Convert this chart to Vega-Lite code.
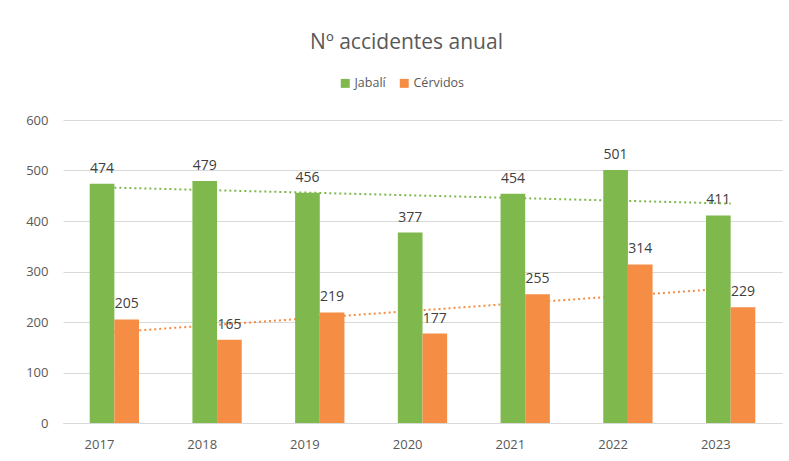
{
  "$schema": "https://vega.github.io/schema/vega-lite/v6.json",
  "width": 719,
  "height": 303,
  "autosize": {"type": "none"},
  "padding": {"left": 63, "top": 120, "right": 7, "bottom": 38},
  "background": "white",
  "config": {
    "font": "Open Sans",
    "view": {"stroke": null},
    "axis": {"labelColor": "#595959", "labelFontSize": 13, "titleColor": "#595959"}
  },
  "title": {
    "text": "Nº accidentes anual",
    "fontSize": 21,
    "font": "Open Sans",
    "fontWeight": "normal",
    "color": "#595959",
    "anchor": "middle",
    "dx": -16,
    "offset": 24
  },
  "data": {
    "values": [
      {"year": 2017, "series": "Jabalí", "value": 474},
      {"year": 2018, "series": "Jabalí", "value": 479},
      {"year": 2019, "series": "Jabalí", "value": 456},
      {"year": 2020, "series": "Jabalí", "value": 377},
      {"year": 2021, "series": "Jabalí", "value": 454},
      {"year": 2022, "series": "Jabalí", "value": 501},
      {"year": 2023, "series": "Jabalí", "value": 411},
      {"year": 2017, "series": "Cérvidos", "value": 205},
      {"year": 2018, "series": "Cérvidos", "value": 165},
      {"year": 2019, "series": "Cérvidos", "value": 219},
      {"year": 2020, "series": "Cérvidos", "value": 177},
      {"year": 2021, "series": "Cérvidos", "value": 255},
      {"year": 2022, "series": "Cérvidos", "value": 314},
      {"year": 2023, "series": "Cérvidos", "value": 229}
    ]
  },
  "layer": [
    {
      "transform": [{"regression": "value", "on": "year", "groupby": ["series"]}],
      "mark": {"type": "line", "strokeDash": [2, 3], "strokeWidth": 2},
      "encoding": {
        "x": {"field": "year", "type": "ordinal"},
        "y": {"field": "value", "type": "quantitative"},
        "color": {"field": "series", "type": "nominal"}
      }
    },
    {
      "mark": {"type": "bar"},
      "encoding": {
        "x": {
          "field": "year",
          "type": "ordinal",
          "title": null,
          "scale": {"paddingInner": 0.52, "paddingOuter": 0.26},
          "axis": {"labelAngle": 0, "ticks": false, "domainColor": "#d9d9d9", "labelPadding": 21, "grid": false}
        },
        "xOffset": {"field": "series", "type": "nominal", "sort": ["Jabalí", "Cérvidos"], "scale": {"paddingInner": 0, "paddingOuter": 0}},
        "y": {
          "field": "value",
          "type": "quantitative",
          "title": null,
          "scale": {"domain": [0, 600]},
          "axis": {"values": [0, 100, 200, 300, 400, 500, 600], "domain": false, "ticks": false, "gridColor": "#d9d9d9", "labelPadding": 15}
        },
        "color": {
          "field": "series",
          "type": "nominal",
          "scale": {"domain": ["Jabalí", "Cérvidos"], "range": ["#7fb84c", "#f58e44"]},
          "legend": {
            "title": null,
            "orient": "none",
            "direction": "horizontal",
            "legendX": 276,
            "legendY": -43,
            "symbolType": "square",
            "symbolSize": 80,
            "symbolStrokeWidth": 0,
            "labelFontSize": 12.5,
            "labelColor": "#595959",
            "columnPadding": 12,
            "labelOffset": 3
          }
        }
      }
    },
    {
      "mark": {"type": "text", "baseline": "alphabetic", "dy": -11, "fontSize": 14, "color": "#404040"},
      "encoding": {
        "x": {"field": "year", "type": "ordinal"},
        "xOffset": {"field": "series", "type": "nominal", "sort": ["Jabalí", "Cérvidos"]},
        "y": {"field": "value", "type": "quantitative"},
        "text": {"field": "value", "type": "quantitative"}
      }
    }
  ]
}
